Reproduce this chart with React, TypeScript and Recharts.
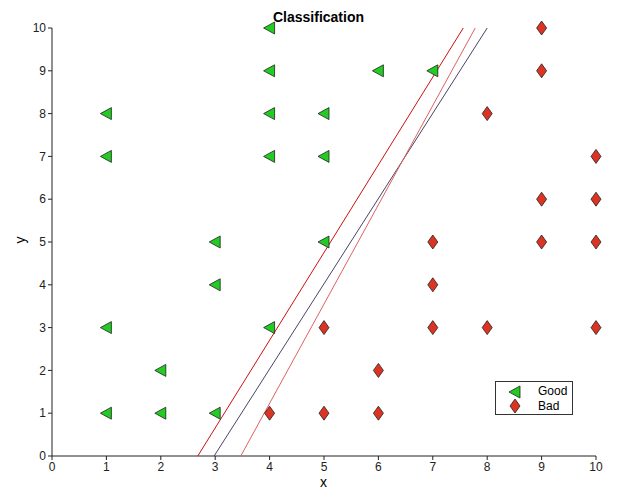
import { ScatterChart, Scatter, XAxis, YAxis } from "recharts";

const goodX = [1, 1, 1, 1, 2, 2, 3, 3, 3, 4, 4, 4, 4, 4, 5, 5, 5, 6, 7];
const goodY = [8, 7, 3, 1, 2, 1, 5, 4, 1, 10, 9, 8, 7, 3, 8, 7, 5, 9, 9];
const badX = [9, 9, 8, 10, 9, 10, 9, 10, 7, 7, 7, 8, 5, 10, 6, 4, 5, 6];
const badY = [10, 9, 8, 7, 6, 6, 5, 5, 5, 4, 3, 3, 3, 3, 2, 1, 1, 1];
const ticks = [0, 1, 2, 3, 4, 5, 6, 7, 8, 9, 10];

const boundaries = [
  { name: "b1", color: "#cc1111", pts: [[2.68, 0], [7.56, 10]] },
  { name: "b2", color: "#4a4466", pts: [[2.98, 0], [8.0, 10]] },
  { name: "b3", color: "#e06060", pts: [[3.47, 0], [7.78, 10]] },
];

const good = goodX.map((x, i) => ({ x, y: goodY[i] }));
const bad = badX.map((x, i) => ({ x, y: badY[i] }));

const Tri = ({ cx, cy }: any) => (
  <polygon
    points={`${cx - 6},${cy} ${cx + 5},${cy - 6} ${cx + 5},${cy + 6}`}
    fill="#22cc22"
    stroke="#222"
    strokeWidth={0.8}
  />
);
const Dia = ({ cx, cy }: any) => (
  <polygon
    points={`${cx},${cy - 7} ${cx + 5},${cy} ${cx},${cy + 7} ${cx - 5},${cy}`}
    fill="#dd3322"
    stroke="#222"
    strokeWidth={0.8}
  />
);

const tick = { fontSize: 12, fill: "#222" };

export default function App() {
  return (
    <div style={{ position: "relative", width: 637, height: 499, margin: -8, fontFamily: "Liberation Sans, Arial, sans-serif", background: "#fff", overflow: "visible" }}>
      <ScatterChart width={637} height={499} margin={{ top: 28, right: 41, bottom: 13, left: 22 }} style={{ overflow: "visible" }}>
        <XAxis type="number" dataKey="x" domain={[0, 10]} ticks={ticks} tick={tick} stroke="#222" tickSize={4} height={30} />
        <YAxis type="number" dataKey="y" domain={[0, 10]} ticks={ticks} tick={tick} stroke="#222" tickSize={4} width={30} />
        {boundaries.map((b) => (
          <Scatter
            key={b.name}
            data={b.pts.map(([x, y]) => ({ x, y }))}
            line={{ stroke: b.color, strokeWidth: 1 }}
            shape={() => null}
            isAnimationActive={false}
          />
        ))}
        <Scatter data={good} shape={Tri} isAnimationActive={false} />
        <Scatter data={bad} shape={Dia} isAnimationActive={false} />
      </ScatterChart>
      <div style={{ position: "absolute", left: 0, top: 9, width: 637, textAlign: "center", fontWeight: "bold", fontSize: 14 }}>Classification</div>
      <div style={{ position: "absolute", left: 320, top: 474, fontSize: 14 }}>x</div>
      <div style={{ position: "absolute", left: 16, top: 232, fontSize: 14, transform: "rotate(-90deg)" }}>y</div>
      <div style={{ position: "absolute", left: 495, top: 381, width: 76, height: 32, border: "1px solid #333", background: "#fff", fontSize: 12 }}>
        <svg width={76} height={32} style={{ position: "absolute", left: 0, top: 0 }}>
          <Tri cx={19} cy={10} />
          <Dia cx={19} cy={24} />
        </svg>
        <div style={{ position: "absolute", left: 42, top: 2 }}>Good</div>
        <div style={{ position: "absolute", left: 42, top: 17 }}>Bad</div>
      </div>
    </div>
  );
}
